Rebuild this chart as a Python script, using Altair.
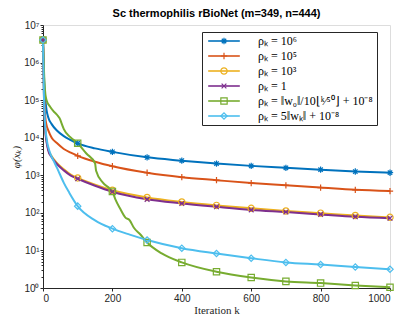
import altair as alt
import pandas as pd

# ---- data ----
labels = [
    "ρₖ = 10⁶",
    "ρₖ = 10⁵",
    "ρₖ = 10³",
    "ρₖ = 1",
    "ρₖ = ‖w₀‖/10⌊ᵏ⁄⁵⁰⌋ + 10⁻⁸",
    "ρₖ = 5‖wₖ‖ + 10⁻⁸",
]
colors = ["#0072BD", "#D95319", "#EDB120", "#7E2F8E", "#77AC30", "#4DBEEE"]

k_std = [0, 3, 6, 10, 15, 25, 40, 60, 80, 100, 150, 200, 300, 400, 500, 600, 700, 800, 900, 1000]

rho_1e6 = [4.0e6, 4.0e5, 1.26e5, 5.6e4, 3.5e4, 2.3e4, 1.55e4, 1.1e4, 8.7e3, 7.1e3,
           5.2e3, 4.2e3, 3.0e3, 2.45e3, 2.05e3, 1.78e3, 1.58e3, 1.41e3, 1.26e3, 1.17e3]
rho_1e5 = [4.0e6, 2.0e5, 4.0e4, 2.2e4, 1.6e4, 1.0e4, 7.2e3, 5.0e3, 4.0e3, 3.3e3,
           2.3e3, 1.74e3, 1.17e3, 890, 740, 620, 540, 470, 410, 380]
rho_1e3 = [4.0e6, 1.2e5, 2.0e4, 8.5e3, 5.0e3, 3.2e3, 2.15e3, 1.45e3, 1.05e3, 850,
           560, 400, 257, 195, 158, 132, 112, 98, 85, 76]
rho_1 = [4.0e6, 1.0e5, 1.8e4, 8.0e3, 4.6e3, 3.0e3, 2.0e3, 1.35e3, 980, 810,
         525, 363, 229, 178, 145, 120, 105, 91, 79, 72]

k_green = [0, 2, 4, 7, 11, 20, 30, 42, 50, 53, 60, 78, 100, 125, 150, 153, 172, 192, 200,
           209, 223, 237, 250, 262, 280, 300, 342, 400, 500, 600, 700, 800, 900, 1000]
rho_step = [4.0e6, 1.0e6, 3.16e5, 1.41e5, 9.5e4, 6.8e4, 5.1e4, 3.9e4, 3.0e4, 2.5e4, 1.7e4,
            1.05e4, 7.1e3, 3.8e3, 2.09e3, 1.32e3, 646, 447, 372,
            224, 126, 76, 63, 40, 27, 16.2, 8.3, 4.8, 2.7, 1.9, 1.5, 1.35, 1.17, 1.05]

k_cyan = [0, 2, 5, 10, 20, 30, 40, 50, 60, 76, 100, 150, 200, 250, 300, 400, 500, 600,
          700, 800, 900, 1000]
rho_wk = [4.0e6, 2.5e5, 3.2e4, 1.0e4, 4.0e3, 2.5e3, 1.6e3, 1.0e3, 630, 340, 151, 63,
          38, 26.3, 19, 11.5, 8.3, 6.2, 4.8, 4.2, 3.6, 3.16]

series = [
    (labels[0], k_std, rho_1e6),
    (labels[1], k_std, rho_1e5),
    (labels[2], k_std, rho_1e3),
    (labels[3], k_std, rho_1),
    (labels[4], k_green, rho_step),
    (labels[5], k_cyan, rho_wk),
]

rows = []
for order, (name, ks, vs) in enumerate(series):
    for k, v in zip(ks, vs):
        rows.append({"series": name, "order": order, "k": k, "phi": v})
df = pd.DataFrame(rows)

x_ticks = list(range(0, 1001, 100))
y_ticks = [m * 10 ** e for e in range(0, 7) for m in range(1, 10)] + [10 ** 7]

shapes = [
    "M-1,0L1,0M0,-1L0,1M-0.7,-0.7L0.7,0.7M-0.7,0.7L0.7,-0.7",
    "M-1,0L1,0M0,-1L0,1",
    "circle",
    "M-0.75,-0.75L0.75,0.75M-0.75,0.75L0.75,-0.75",
    "square",
    "diamond",
]

major_test = "indexof([1,10,100,1000,10000,100000,1000000,10000000], datum.value) >= 0"
label_expr = (
    "indexof([1,10,100,1000,10000,100000,1000000,10000000], datum.value) >= 0 ? "
    "'10' + ['⁰','¹','²','³','⁴','⁵','⁶','⁷'][indexof([1,10,100,1000,10000,100000,1000000,10000000], datum.value)] : ''"
)

axis_style = dict(grid=False, labelFont="Liberation Sans", labelFontSize=10,
                  titleFont="Liberation Serif", titleFontSize=11, titleFontWeight="normal",
                  domainColor="#262626", tickColor="#262626", labelColor="#262626",
                  titleColor="#262626")

x_enc = alt.X(
    "k:Q",
    scale=alt.Scale(domain=[0, 1000], nice=False),
    axis=alt.Axis(values=x_ticks, format="d", labelOverlap=False, title="Iteration k",
                  tickSize=3, labelPadding=2, titlePadding=1, **axis_style),
)
y_enc = alt.Y(
    "phi:Q",
    scale=alt.Scale(type="log", domain=[1, 1e7], nice=False),
    axis=alt.Axis(values=y_ticks, labelExpr=label_expr, labelOverlap=False, title="φ(xₖ)",
                  titleFontStyle="italic",
                  tickSize={"condition": {"test": major_test, "value": 3}, "value": 2},
                  labelPadding=1, titlePadding=2, **axis_style),
)

# shared legend geometry: the two legends are laid exactly on top of each other
leg_common = dict(title=None, orient="none", legendX=alt.ExprRef("width - 188"), legendY=7,
                  labelFont="Liberation Serif", labelFontSize=12, labelLimit=220,
                  symbolSize=40, padding=3, rowPadding=3, labelOffset=28,
                  symbolOffset=13)

line_domain = labels + [" "]
line_colors = colors + ["rgba(0,0,0,0)"]

lines = alt.Chart(df).mark_line(strokeWidth=2, interpolate="monotone").encode(
    x=x_enc,
    y=y_enc,
    stroke=alt.Stroke(
        "series:N",
        scale=alt.Scale(domain=line_domain, range=line_colors),
        legend=alt.Legend(symbolType="M-5,0L5,0", symbolStrokeWidth=1.6,
                          symbolFillColor="transparent", labelColor="black", **leg_common),
    ),
    order="k:Q",
)

marker_legend = alt.Legend(symbolStrokeWidth=1.2, labelOpacity=0, strokeColor="#262626",
                           **leg_common)

points = alt.Chart(df).transform_filter("datum.k % 100 == 0").mark_point(
    filled=False, size=40, strokeWidth=1.2, opacity=1
).encode(
    x="k:Q",
    y="phi:Q",
    color=alt.Color("series:N", scale=alt.Scale(domain=labels, range=colors),
                    legend=marker_legend),
    shape=alt.Shape("series:N", scale=alt.Scale(domain=labels, range=shapes),
                    legend=marker_legend),
)

chart = alt.layer(lines, points).properties(
    width=390,
    height=307,
    autosize=alt.AutoSizeParams(type="fit", contains="padding"),
    title=alt.TitleParams("Sc thermophilis rBioNet (m=349, n=444)", font="Liberation Sans",
                          fontSize=11, fontWeight="bold", color="black", offset=1),
    padding={"left": 2, "top": 0, "right": 2, "bottom": 0},
).configure_view(stroke="#262626", strokeWidth=1).configure(background="white")

chart.save("out.html", embed_options={"renderer": "svg", "actions": False})
